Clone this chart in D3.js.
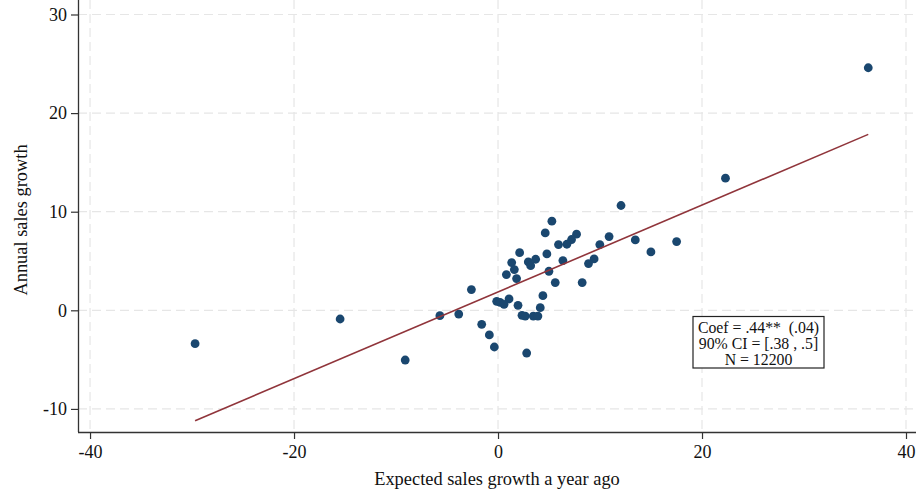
<!DOCTYPE html>
<html>
<head>
<meta charset="utf-8">
<script src="https://cdn.jsdelivr.net/npm/d3@7"></script>
<style>
  html, body { margin: 0; padding: 0; background: #fff; }
  svg { display: block; }
  text { font-family: "Liberation Serif", "DejaVu Serif", serif; fill: #111; white-space: pre; }
</style>
</head>
<body>
<svg id="chart" width="916" height="492"></svg>
<script>
// Binned means: expected growth a year ago (x) vs realised annual growth (y)
const xValues = [36.3, 22.3, 12.06, 5.28, 4.63, 7.70, 7.21, 6.75, 5.93, 10.89,
  9.98, 4.79, 2.12, 6.36, 3.69, 2.97, 3.20, 1.34, 1.60, 9.42,
  8.87, 4.99, 0.82, 1.82, 5.61, 8.25, -2.61, 4.40, 1.08, -0.13,
  0.20, 0.59, 1.96, 4.14, -5.70, -3.85, 2.35, 2.67, 3.46, 3.91,
  -1.60, -0.85, -0.36, 2.81, 13.46, 14.99, 17.51, -29.70, -15.48, -9.10];
const yValues = [24.6, 13.4, 10.63, 9.04, 7.85, 7.72, 7.18, 6.70, 6.67, 7.48,
  6.67, 5.72, 5.85, 5.04, 5.18, 4.91, 4.53, 4.84, 4.13, 5.21,
  4.74, 3.96, 3.62, 3.22, 2.81, 2.81, 2.10, 1.49, 1.15, 0.91,
  0.81, 0.61, 0.51, 0.27, -0.54, -0.38, -0.51, -0.58, -0.58, -0.58,
  -1.42, -2.50, -3.72, -4.33, 7.14, 5.92, 6.97, -3.38, -0.88, -5.04];

// Fitted line
const fitSlope = 0.44;
const fitIntercept = 1.87;
const fitRange = [-29.7, 36.3];

// Axis ticks
const xTicks = [-40, -20, 0, 20, 40];
const yTicks = [-10, 0, 10, 20, 30];

// Annotation
const statLines = ["Coef = .44**  (.04)", "90% CI = [.38 , .5]", "N = 12200"];

const svg = d3.select("#chart");
const plotL = 78, plotR = 916, plotT = 0, plotB = 432;

const x = d3.scaleLinear().domain([-41.18, 40.98]).range([plotL, plotR]);
const y = d3.scaleLinear().domain([-12.34, 31.47]).range([plotB, plotT]);

// Grid
const grid = svg.append("g").attr("stroke", "#e6e6e6").attr("stroke-width", 1.2)
  .attr("stroke-dasharray", "9,5");
grid.selectAll("line.v").data(xTicks).join("line").attr("class", "v")
  .attr("x1", d => x(d)).attr("x2", d => x(d))
  .attr("y1", plotT).attr("y2", plotB);
grid.selectAll("line.h").data(yTicks).join("line").attr("class", "h")
  .attr("x1", plotL).attr("x2", plotR)
  .attr("y1", d => y(d)).attr("y2", d => y(d));

// Axes (plain hyphen for negative labels)
const fmt = d => String(d);
const xAxis = svg.append("g").attr("transform", `translate(0,${plotB})`)
  .call(d3.axisBottom(x).tickValues(xTicks).tickSize(7).tickPadding(6).tickFormat(fmt));
const yAxis = svg.append("g").attr("transform", `translate(${plotL},0)`)
  .call(d3.axisLeft(y).tickValues(yTicks).tickSize(7).tickPadding(4).tickFormat(fmt));
[xAxis, yAxis].forEach(a => {
  a.select(".domain").attr("stroke", "#333").attr("stroke-width", 1.3);
  a.selectAll(".tick line").attr("stroke", "#333").attr("stroke-width", 1.2);
  a.selectAll(".tick text").attr("font-family", "Liberation Serif, serif")
    .attr("font-size", 18).attr("fill", "#111");
});
xAxis.select(".domain").attr("d", `M${plotL},0.5H${plotR}`);
yAxis.select(".domain").attr("d", `M0.5,${plotT}V${plotB}`);

// Axis titles
svg.append("text").attr("x", 497).attr("y", 485)
  .attr("text-anchor", "middle").attr("font-size", 18.4)
  .text("Expected sales growth a year ago");
svg.append("text").attr("transform", `translate(27,220) rotate(-90)`)
  .attr("text-anchor", "middle").attr("font-size", 18.4)
  .text("Annual sales growth");

// Points
const pts = xValues.map((v, i) => ({ x: v, y: yValues[i] }));
svg.append("g").selectAll("circle").data(pts).join("circle")
  .attr("cx", d => x(d.x)).attr("cy", d => y(d.y)).attr("r", 4.4)
  .attr("fill", "#1a476f");

// Fitted line
const line = d3.line().x(d => x(d)).y(d => y(fitIntercept + fitSlope * d));
svg.append("path").datum(fitRange).attr("d", line)
  .attr("fill", "none").attr("stroke", "#90353b").attr("stroke-width", 1.6);

// Annotation box
const box = svg.append("g");
box.append("rect").attr("x", 693).attr("y", 316.5).attr("width", 131).attr("height", 51.5)
  .attr("fill", "#fff").attr("stroke", "#222").attr("stroke-width", 1.2);
box.selectAll("text").data(statLines).join("text")
  .attr("x", 758.5).attr("y", (d, i) => 333 + i * 16.2)
  .attr("text-anchor", "middle").attr("font-size", 15.8)
  .text(d => d);
</script>
</body>
</html>
